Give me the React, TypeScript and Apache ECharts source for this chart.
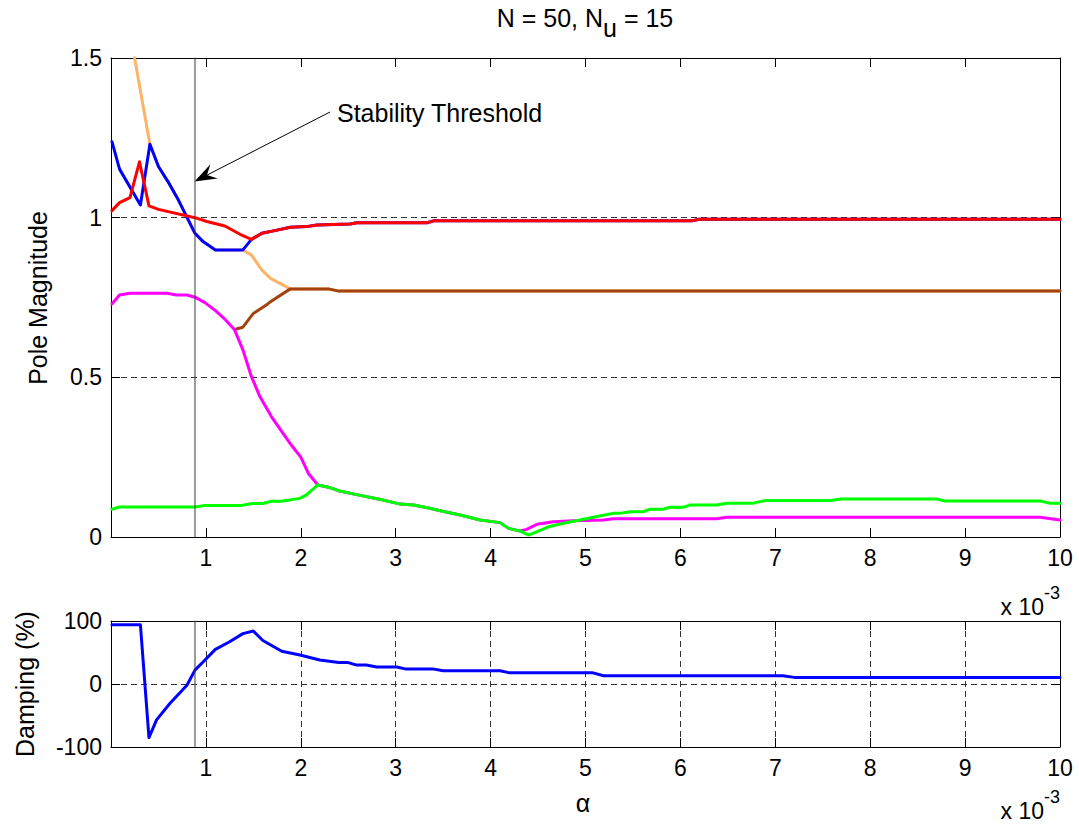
import React, { useEffect, useRef } from "react";
import * as echarts from "echarts";

const FONT = '"Liberation Sans", Arial, Helvetica, sans-serif';

// alpha axis, in units of 1e-3
const ALPHA_MIN = 0;
const ALPHA_MAX = 10;
const ALPHA_STEP = 1;
const STABILITY_ALPHA = 0.885;

const MAG_MIN = 0;
const MAG_MAX = 1.5;
const MAG_STEP = 0.5;

const DAMP_MIN = -100;
const DAMP_MAX = 100;
const DAMP_STEP = 100;

// pole magnitudes vs alpha (x 1e-3)
const poleOrange: [number, number][] = [
  [0.01, 1.9], [0.41, 1.23], [0.5, 1.16], [0.6, 1.113], [0.7, 1.061],
  [0.885, 0.951], [0.97, 0.925], [1.1, 0.899], [1.39, 0.899], [1.48, 0.883],
  [1.59, 0.836], [1.68, 0.81], [1.89, 0.777], [2.29, 0.777], [2.4, 0.77], [10, 0.77],
];

const poleBlue: [number, number][] = [
  [0.01, 1.238], [0.09, 1.152], [0.31, 1.04], [0.41, 1.23], [0.5, 1.16],
  [0.6, 1.113], [0.7, 1.061], [0.885, 0.951], [0.97, 0.925], [1.1, 0.899],
  [1.39, 0.899], [1.48, 0.932], [1.59, 0.951], [1.75, 0.961], [1.89, 0.97],
  [2.06, 0.972], [2.17, 0.977], [2.52, 0.98], [2.59, 0.984], [3.33, 0.984],
  [3.4, 0.99], [6.12, 0.99], [6.2, 0.995], [10, 0.995],
];

const poleRed: [number, number][] = [
  [0.01, 1.022], [0.09, 1.047], [0.2, 1.063], [0.3, 1.175], [0.4, 1.037],
  [0.5, 1.026], [0.885, 1.0], [1.01, 0.988], [1.2, 0.974], [1.36, 0.948],
  [1.48, 0.932], [1.59, 0.951], [1.75, 0.961], [1.89, 0.97], [2.06, 0.972],
  [2.17, 0.977], [2.52, 0.98], [2.59, 0.984], [3.33, 0.984], [3.4, 0.99],
  [6.12, 0.99], [6.2, 0.995], [10, 0.995],
];

const poleBrown: [number, number][] = [
  [1.3, 0.65], [1.39, 0.657], [1.5, 0.7], [1.64, 0.727], [1.68, 0.737],
  [1.89, 0.777], [2.29, 0.777], [2.4, 0.77], [10, 0.77],
];

const poleMagenta: [number, number][] = [
  [0.01, 0.73], [0.09, 0.758], [0.2, 0.763], [0.59, 0.763], [0.69, 0.758],
  [0.8, 0.758], [0.885, 0.751], [0.99, 0.734], [1.1, 0.709], [1.2, 0.682],
  [1.3, 0.65], [1.39, 0.586], [1.48, 0.502], [1.57, 0.439], [1.69, 0.377],
  [1.8, 0.33], [1.9, 0.288], [2.0, 0.25], [2.08, 0.199], [2.18, 0.163],
  [2.29, 0.156], [2.41, 0.144], [2.55, 0.135], [2.83, 0.118], [3.05, 0.103],
  [3.19, 0.1], [3.36, 0.09], [3.47, 0.082], [3.68, 0.069], [3.89, 0.053],
  [4.1, 0.045], [4.19, 0.027], [4.31, 0.019], [4.38, 0.024], [4.49, 0.04],
  [4.66, 0.048], [4.87, 0.051], [5.19, 0.053], [5.29, 0.057], [6.38, 0.057],
  [6.49, 0.062], [9.79, 0.062], [10, 0.053],
];

const poleGreen: [number, number][] = [
  [0.01, 0.087], [0.09, 0.094], [0.885, 0.094], [0.99, 0.099], [1.38, 0.099],
  [1.48, 0.105], [1.6, 0.105], [1.69, 0.112], [1.8, 0.112], [1.99, 0.121],
  [2.06, 0.132], [2.18, 0.163], [2.29, 0.156], [2.41, 0.144], [2.55, 0.135],
  [2.83, 0.118], [3.05, 0.103], [3.19, 0.1], [3.36, 0.09], [3.47, 0.082],
  [3.68, 0.069], [3.89, 0.053], [4.1, 0.045], [4.19, 0.027], [4.31, 0.019],
  [4.4, 0.006], [4.61, 0.032], [4.77, 0.043], [4.94, 0.053], [5.12, 0.064],
  [5.29, 0.074], [5.36, 0.074], [5.47, 0.079], [5.61, 0.079], [5.68, 0.087],
  [5.82, 0.087], [5.89, 0.093], [6.03, 0.093], [6.1, 0.1], [6.38, 0.1],
  [6.49, 0.106], [6.77, 0.106], [6.89, 0.114], [7.58, 0.114], [7.69, 0.119],
  [8.7, 0.119], [8.79, 0.113], [9.79, 0.113], [9.89, 0.106], [10, 0.106],
];

// damping (%) of the dominant pole vs alpha (x 1e-3)
const damping: [number, number][] = [
  [0.01, 94], [0.31, 94], [0.4, -85], [0.48, -57], [0.62, -31], [0.8, -2],
  [0.885, 22], [0.97, 35], [1.1, 55], [1.25, 67], [1.39, 80], [1.5, 84],
  [1.6, 69], [1.8, 52], [1.99, 46], [2.2, 38], [2.4, 34], [2.5, 34],
  [2.59, 30], [2.69, 30], [2.8, 27], [3.01, 27], [3.1, 24], [3.39, 24],
  [3.5, 21], [4.1, 21], [4.19, 18], [5.07, 18], [5.19, 13], [7.08, 13],
  [7.2, 10.5], [10, 10.5],
];

const COLORS = {
  orange: "#FFB366",
  blue: "#0000FF",
  red: "#FF0000",
  brown: "#A3410F",
  magenta: "#FF00FF",
  green: "#00FF00",
};

const GRID_COLOR = "#333333";
const THRESHOLD_COLOR = "#3a3a3a";
const TICK_FONT = 23;
const LABEL_FONT = 25;

function xAxis(gridIndex: number, position: "top" | "bottom", withLabels: boolean, grid: boolean) {
  return {
    type: "value",
    gridIndex,
    position,
    min: ALPHA_MIN,
    max: ALPHA_MAX,
    interval: ALPHA_STEP,
    axisLine: { show: true, onZero: false, lineStyle: { color: "#000", width: 1 } },
    axisTick: { show: true, inside: true, length: 9, lineStyle: { color: "#000", width: 1 } },
    axisLabel: {
      show: withLabels,
      margin: 9,
      color: "#000",
      fontFamily: FONT,
      fontSize: TICK_FONT,
      showMinLabel: true,
      showMaxLabel: true,
      formatter: (v: number) => (v === 0 ? "" : String(v)),
    },
    splitLine: { show: grid, lineStyle: { color: GRID_COLOR, width: 1, type: [6, 4] } },
  };
}

function yAxis(
  gridIndex: number,
  position: "left" | "right",
  min: number,
  max: number,
  interval: number,
  withLabels: boolean
) {
  return {
    type: "value",
    gridIndex,
    position,
    min,
    max,
    interval,
    axisLine: { show: true, onZero: false, lineStyle: { color: "#000", width: 1 } },
    axisTick: { show: true, inside: true, length: 9, lineStyle: { color: "#000", width: 1 } },
    axisLabel: {
      show: withLabels,
      margin: 9,
      color: "#000",
      fontFamily: FONT,
      fontSize: TICK_FONT,
      showMinLabel: true,
      showMaxLabel: true,
      formatter: (v: number) => String(v),
    },
    splitLine: { show: withLabels, lineStyle: { color: GRID_COLOR, width: 1, type: [6, 4] } },
  };
}

function lineSeries(name: string, data: [number, number][], color: string, xi: number, yi: number, width = 3) {
  return {
    type: "line",
    name,
    data,
    xAxisIndex: xi,
    yAxisIndex: yi,
    showSymbol: false,
    symbol: "none",
    clip: true,
    silent: true,
    lineStyle: { color, width, cap: "round", join: "round" },
    itemStyle: { color },
    emphasis: { disabled: true },
  };
}

// arrow pointing at the threshold line
function arrowGraphics(start: [number, number], tip: [number, number]) {
  const dx = start[0] - tip[0];
  const dy = start[1] - tip[1];
  const len = Math.hypot(dx, dy);
  const ux = dx / len;
  const uy = dy / len;
  const px = -uy;
  const py = ux;
  const headLen = 22;
  const headHalf = 8;
  const notch = 14;
  const base: [number, number] = [tip[0] + ux * headLen, tip[1] + uy * headLen];
  const c1: [number, number] = [base[0] + px * headHalf, base[1] + py * headHalf];
  const c2: [number, number] = [base[0] - px * headHalf, base[1] - py * headHalf];
  const n: [number, number] = [tip[0] + ux * notch, tip[1] + uy * notch];
  return [
    {
      type: "line",
      shape: { x1: start[0], y1: start[1], x2: n[0], y2: n[1] },
      style: { stroke: "#000", lineWidth: 1 },
      silent: true,
    },
    {
      type: "polygon",
      shape: { points: [tip, c1, n, c2] },
      style: { fill: "#000" },
      silent: true,
    },
  ];
}

function scaleNote(y: number) {
  return {
    type: "text",
    x: 1060,
    y,
    silent: true,
    style: {
      text: "{b|x 10}{p|-3}",
      align: "right",
      textAlign: "right",
      verticalAlign: "middle",
      textVerticalAlign: "middle",
      fill: "#000",
      font: `${TICK_FONT}px ${FONT}`,
      rich: {
        b: { fontSize: TICK_FONT, fontFamily: FONT, fill: "#000", padding: [14, 0, 0, 0], verticalAlign: "middle" },
        p: { fontSize: 18, fontFamily: FONT, fill: "#000", padding: [0, 0, 14, 0], verticalAlign: "middle" },
      },
    },
  };
}

export default function App() {
  const ref = useRef<HTMLDivElement>(null);

  useEffect(() => {
    if (!ref.current) return;
    const chart = echarts.init(ref.current, undefined, { renderer: "svg" });

    const option = {
      animation: false,
      backgroundColor: "#ffffff",
      textStyle: { fontFamily: FONT },
      grid: [
        { left: 111, top: 58, width: 949, height: 479, containLabel: false },
        { left: 111, top: 621, width: 949, height: 126, containLabel: false },
      ],
      xAxis: [
        xAxis(0, "bottom", true, false),
        xAxis(0, "top", false, false),
        xAxis(1, "bottom", true, true),
        xAxis(1, "top", false, false),
      ],
      yAxis: [
        yAxis(0, "left", MAG_MIN, MAG_MAX, MAG_STEP, true),
        yAxis(0, "right", MAG_MIN, MAG_MAX, MAG_STEP, false),
        yAxis(1, "left", DAMP_MIN, DAMP_MAX, DAMP_STEP, true),
        yAxis(1, "right", DAMP_MIN, DAMP_MAX, DAMP_STEP, false),
      ],
      series: [
        lineSeries("pole 1", poleOrange, COLORS.orange, 0, 0),
        lineSeries("pole 2", poleBlue, COLORS.blue, 0, 0),
        lineSeries("pole 3", poleRed, COLORS.red, 0, 0),
        lineSeries("pole 4", poleBrown, COLORS.brown, 0, 0),
        lineSeries("pole 5", poleMagenta, COLORS.magenta, 0, 0),
        lineSeries("pole 6", poleGreen, COLORS.green, 0, 0),
        lineSeries("damping", damping, COLORS.blue, 2, 2),
        lineSeries(
          "threshold",
          [
            [STABILITY_ALPHA, MAG_MIN],
            [STABILITY_ALPHA, MAG_MAX],
          ],
          THRESHOLD_COLOR,
          0,
          0,
          1
        ),
        lineSeries(
          "threshold damping",
          [
            [STABILITY_ALPHA, DAMP_MIN],
            [STABILITY_ALPHA, DAMP_MAX],
          ],
          THRESHOLD_COLOR,
          2,
          2,
          1
        ),
      ],
      graphic: [
        {
          type: "text",
          x: 585,
          y: 23,
          silent: true,
          style: {
            text: "{n|N = 50, N}{s|u}{n| = 15}",
            align: "center",
            textAlign: "center",
            verticalAlign: "middle",
            textVerticalAlign: "middle",
            fill: "#000",
            font: `${LABEL_FONT}px ${FONT}`,
            rich: {
              n: { fontSize: LABEL_FONT, fontFamily: FONT, fill: "#000", padding: [0, 0, 10, 0], verticalAlign: "middle" },
              s: { fontSize: LABEL_FONT, fontFamily: FONT, fill: "#000", padding: [10, 0, 0, 0], verticalAlign: "middle" },
            },
          },
        },
        {
          type: "text",
          x: 38,
          y: 298,
          rotation: Math.PI / 2,
          silent: true,
          style: {
            text: "Pole Magnitude",
            align: "center",
            textAlign: "center",
            verticalAlign: "middle",
            textVerticalAlign: "middle",
            fill: "#000",
            font: `${LABEL_FONT}px ${FONT}`,
          },
        },
        {
          type: "text",
          x: 25,
          y: 684,
          rotation: Math.PI / 2,
          silent: true,
          style: {
            text: "Damping (%)",
            align: "center",
            textAlign: "center",
            verticalAlign: "middle",
            textVerticalAlign: "middle",
            fill: "#000",
            font: `${LABEL_FONT}px ${FONT}`,
          },
        },
        {
          type: "text",
          x: 583,
          y: 803,
          silent: true,
          style: {
            text: "α",
            align: "center",
            textAlign: "center",
            verticalAlign: "middle",
            textVerticalAlign: "middle",
            fill: "#000",
            font: `${LABEL_FONT}px ${FONT}`,
          },
        },
        scaleNote(600),
        scaleNote(804),
        ...arrowGraphics([330, 112], [194.5, 181.5]),
        {
          type: "text",
          x: 337,
          y: 113,
          silent: true,
          style: {
            text: "Stability Threshold",
            align: "left",
            textAlign: "left",
            verticalAlign: "middle",
            textVerticalAlign: "middle",
            fill: "#000",
            font: `${LABEL_FONT}px ${FONT}`,
          },
        },
      ],
    };

    chart.setOption(option as any);
    return () => {
      chart.dispose();
    };
  }, []);

  return (
    <div
      ref={ref}
      style={{ position: "fixed", left: 0, top: 0, width: 1079, height: 826, background: "#fff" }}
    />
  );
}
